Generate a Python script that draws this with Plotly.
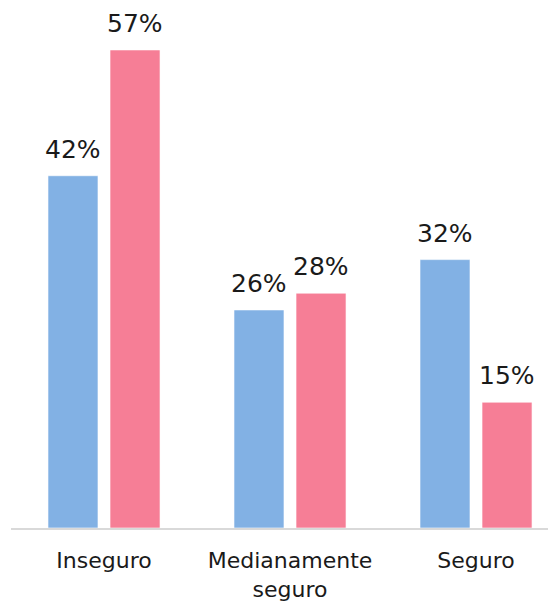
import plotly.graph_objects as go

categories = ["Inseguro", "Medianamente<br>seguro", "Seguro"]
serie_a = [42, 26, 32]
serie_b = [57, 28, 15]
colors = ["#82B1E4", "#F67E96"]

FONT = "DejaVu Sans"

fig = go.Figure()
for vals, col in [(serie_a, colors[0]), (serie_b, colors[1])]:
    fig.add_trace(go.Bar(
        x=categories, y=vals,
        marker=dict(color=col, line=dict(color="rgba(255,255,255,0.6)", width=1)),
        showlegend=False, hoverinfo="skip"))

annotations = []
for i, cat in enumerate(categories):
    for vals, off in [(serie_a, -1), (serie_b, 1)]:
        annotations.append(dict(
            x=i + off * 0.1667, y=vals[i], xref="x", yref="y",
            text=f"{vals[i]}%", showarrow=False, yanchor="bottom", yshift=10,
            font=dict(family=FONT, size=25, color="#1a1a1a")))

fig.update_layout(
    width=548, height=593,
    margin=dict(l=3, r=0, t=0, b=73),
    paper_bgcolor="white", plot_bgcolor="white",
    barmode="group", bargap=0.333, bargroupgap=0.194,
    annotations=annotations,
    xaxis=dict(type="category", range=[-0.5, 2.43], showline=True, linecolor="#D9D9D9", linewidth=2,
               showgrid=False, ticks="", tickfont=dict(family=FONT, size=22, color="#1a1a1a"),
               ticklabelstandoff=12),
    yaxis=dict(range=[0, 62.0], visible=False, showgrid=False),
)
fig.write_html("out.html")
